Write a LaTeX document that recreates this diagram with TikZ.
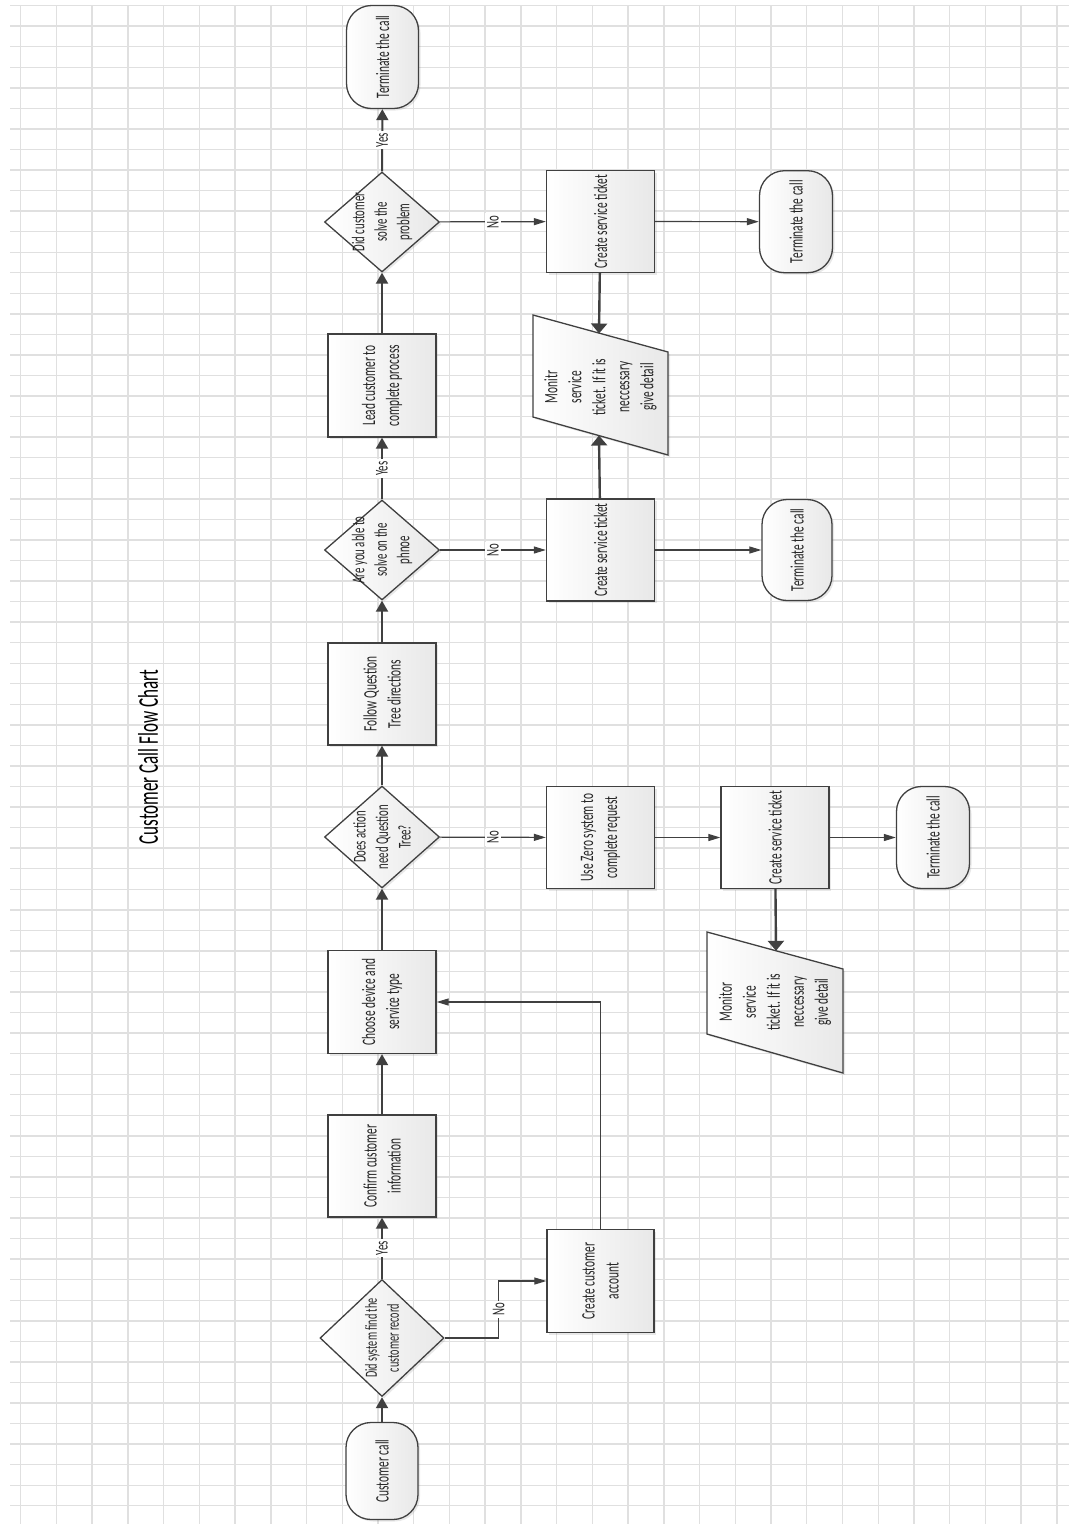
\documentclass[tikz,border=0pt]{standalone}
\usepackage{fontspec}
\newfontfamily\flowfont[FakeStretch=0.6]{Carlito}
\usetikzlibrary{shapes.geometric,arrows.meta,shadows}

\begin{document}
\begin{tikzpicture}[x=1pt,y=-1pt,
    gridline/.style={line width=1.4pt,black!12},
    fig/.style={draw=black!75,line width=1.3pt,left color=white,right color=black!9,
        drop shadow={opacity=0.18,shadow xshift=2pt,shadow yshift=-2pt}},
    box/.style={fig,rectangle,minimum width=108pt,minimum height=103pt,inner sep=0pt},
    term/.style={fig,rectangle,rounded corners=25pt,minimum width=72pt,minimum height=102pt,inner sep=0pt},
    dec/.style={fig,diamond,minimum width=115pt,minimum height=101pt,inner sep=0pt},
    txt/.style={rotate=90,align=center,text=black!85,font=\flowfont\fontsize{19}{24}\selectfont},
    dtxt/.style={txt,font=\flowfont\fontsize{18}{22.5}\selectfont},
    lbl/.style={rotate=90,fill=white,inner sep=2pt,text=black!85,font=\flowfont\fontsize{18}{20}\selectfont},
    flow/.style={draw=black!75,line width=2pt,-{Triangle[length=11pt,width=12pt]}},
    side/.style={draw=black!75,line width=1.2pt,-{Triangle[length=12pt,width=7pt]}},
    heavy/.style={draw=black!75,line width=2.4pt,-{Triangle[length=10pt,width=16pt]}}]
    \useasboundingbox (0,0) rectangle (1069,1524);
    % grid paper
    \foreach \k in {0,...,29}
        \draw[gridline] ({20.7+35.73*\k},5.6) -- ({20.7+35.73*\k},1524);
    \foreach \k in {0,...,73}
        \draw[gridline] (10,{5.6+20.55*\k}) -- (1069,{5.6+20.55*\k});

    \node[txt,text=black,font=\flowfont\fontsize{28.5}{30}\selectfont] (title) at (148,757) {Customer Call Flow Chart};

    % main line
    \node[term,minimum height=97pt,label={[txt]center:Customer call}] (start) at (382,1471) {};
    \node[dec,minimum width=124pt,minimum height=117pt,label={[dtxt,font=\flowfont\fontsize{17}{22}\selectfont]center:Did system find the\\customer record}] (find) at (382,1338) {};
    \node[box,minimum height=102pt,label={[txt]center:Confirm customer\\information}] (confirm) at (382,1166) {};
    \node[box,label={[txt]center:Choose device and\\service type}] (choose) at (382,1002) {};
    \node[dec,minimum height=102pt,label={[dtxt]center:Does action\\need Question\\Tree?}] (needq) at (382,837) {};
    \node[box,minimum height=102pt,label={[txt]center:Follow Question\\Tree directions}] (follow) at (382,694) {};
    \node[dec,minimum height=100pt,label={[dtxt]center:Are you able to\\solve on the\\phnoe}] (phone) at (382,550) {};
    \node[box,label={[txt]center:Lead customer to\\complete process}] (lead) at (382,385.5) {};
    \node[dec,minimum height=100pt,label={[dtxt]center:Did customer\\solve the\\problem}] (solved) at (382,222) {};
    \node[term,minimum height=103pt,label={[txt]center:Terminate the call}] (endtop) at (382.5,57) {};

    % side branches
    \node[box,minimum width=107pt,label={[txt]center:Create customer\\account}] (account) at (600.5,1281) {};
    \node[box,minimum height=102pt,label={[txt]center:Use Zero system to\\complete request}] (zero) at (600.5,837.5) {};
    \node[box,minimum height=102pt,label={[txt]center:Create service ticket}] (ticketc) at (775,837.5) {};
    \node[term,minimum width=73pt,label={[txt]center:Terminate the call}] (endc) at (933,837.5) {};
    \path[fig] (707,932) -- (843,969) -- (843,1073) -- (707,1034) -- cycle;
    \node[txt] (monc) at (775,1002) {Monitor\\service\\ticket. If it is\\neccessary\\give detail};
    \coordinate (moncn) at (776,950.8);

    \node[box,minimum height=102pt,label={[txt]center:Create service ticket}] (ticketb) at (600.5,550) {};
    \node[term,minimum width=70pt,minimum height=101pt,label={[txt]center:Terminate the call}] (endb) at (797,550) {};
    \node[box,minimum height=102pt,label={[txt]center:Create service ticket}] (ticketa) at (600.5,221.5) {};
    \node[term,minimum width=73pt,label={[txt]center:Terminate the call}] (enda) at (796,221.7) {};
    \path[fig] (533,315) -- (668,352) -- (668,455) -- (533,417) -- cycle;
    \node[txt] (mona) at (600.5,387) {Monitr\\service\\ticket. If it is\\neccessary\\give detail};
    \coordinate (monan) at (599,333.5);
    \coordinate (monas) at (599,435.5);

    \draw[flow] (start) -- (find);
    \draw[flow] (find) -- node[lbl]{Yes} (confirm);
    \draw[flow] (confirm) -- (choose);
    \draw[flow] (choose) -- (needq);
    \draw[flow] (needq) -- (follow);
    \draw[flow] (follow) -- (phone);
    \draw[flow] (phone) -- node[lbl]{Yes} (lead);
    \draw[flow] (lead) -- (solved);
    \draw[flow] (solved) -- node[lbl]{Yes} (endtop);

    \draw[side] (find.east) -- ++(54,0) |- node[lbl,pos=0.25]{No} (account.west);
    \draw[side] (account.north) |- (choose.east);
    \draw[side] (needq) -- node[lbl]{No} (zero);
    \draw[side] (zero) -- (ticketc);
    \draw[side] (ticketc) -- (endc);
    \draw[heavy] (ticketc) -- (moncn);
    \draw[side] (phone) -- node[lbl]{No} (ticketb);
    \draw[side] (ticketb) -- (endb);
    \draw[heavy] (ticketb) -- (monas);
    \draw[side] (solved) -- node[lbl]{No} (ticketa);
    \draw[side] (ticketa) -- (enda);
    \draw[heavy] (ticketa) -- (monan);
\end{tikzpicture}
\end{document}
